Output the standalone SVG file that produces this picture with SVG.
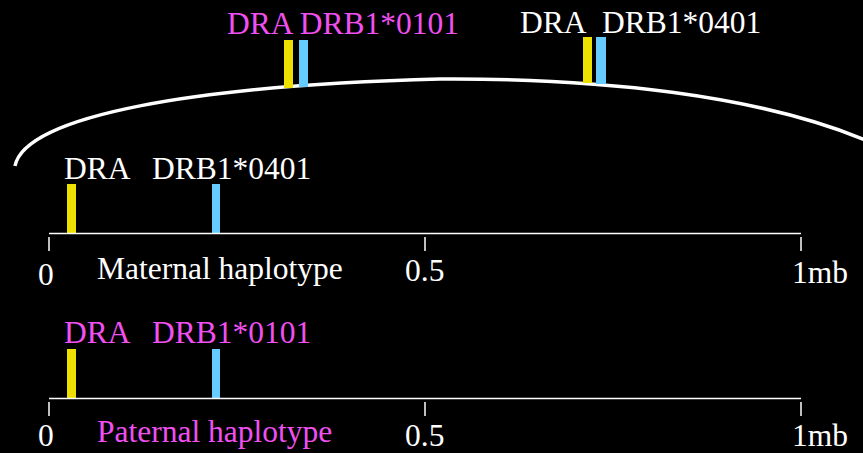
<svg xmlns="http://www.w3.org/2000/svg" width="863" height="453" viewBox="0 0 863 453">
<style>
text{font-family:"Liberation Serif","Times New Roman",serif;font-size:31.5px;fill:#ffffff}
.m{fill:#f050f0}
.ax{stroke:#ffffff;stroke-width:1.5;fill:none}
.y{fill:#eee000}
.b{fill:#66ccff}
</style>
<rect width="863" height="453" fill="#000000"/>
<g id="connectors">
<path d="M15,166 C25,115 200,85 440,79 C600,78 760,95 870,142" fill="none" stroke="#ffffff" stroke-width="3.5"/>
</g>
<g id="top-left">
<text class="m" x="227" y="34">DRA DRB1*0101</text>
<rect class="y" x="284" y="40" width="9" height="48"/>
<rect class="b" x="299" y="40" width="9" height="47"/>
</g>
<g id="top-right">
<text x="520" y="33">DRA</text>
<text x="602" y="33">DRB1*0401</text>
<rect class="y" x="583" y="37" width="9" height="46"/>
<rect class="b" x="596" y="37" width="10" height="47"/>
</g>
<g id="maternal">
<text x="64" y="179">DRA</text>
<text x="152" y="179">DRB1*0401</text>
<rect class="y" x="67" y="184" width="9" height="49"/>
<rect class="b" x="212" y="184" width="8" height="49"/>
<line class="ax" x1="49" y1="233.5" x2="801" y2="233.5"/>
<line class="ax" x1="49" y1="237" x2="49" y2="251"/>
<line class="ax" x1="425" y1="237" x2="425" y2="251"/>
<line class="ax" x1="801" y1="237" x2="801" y2="251"/>
<text x="38" y="285">0</text>
<text x="97" y="279">Maternal haplotype</text>
<text x="405" y="281">0.5</text>
<text x="792" y="283">1mb</text>
</g>
<g id="paternal">
<text class="m" x="64" y="343">DRA</text>
<text class="m" x="152" y="343">DRB1*0101</text>
<rect class="y" x="67" y="349" width="9" height="49"/>
<rect class="b" x="212" y="349" width="8" height="49"/>
<line class="ax" x1="49" y1="398.5" x2="801" y2="398.5"/>
<line class="ax" x1="49" y1="402" x2="49" y2="416"/>
<line class="ax" x1="425" y1="402" x2="425" y2="416"/>
<line class="ax" x1="801" y1="402" x2="801" y2="416"/>
<text x="38" y="446">0</text>
<text class="m" x="97" y="442">Paternal haplotype</text>
<text x="405" y="446">0.5</text>
<text x="792" y="446">1mb</text>
</g>
</svg>
